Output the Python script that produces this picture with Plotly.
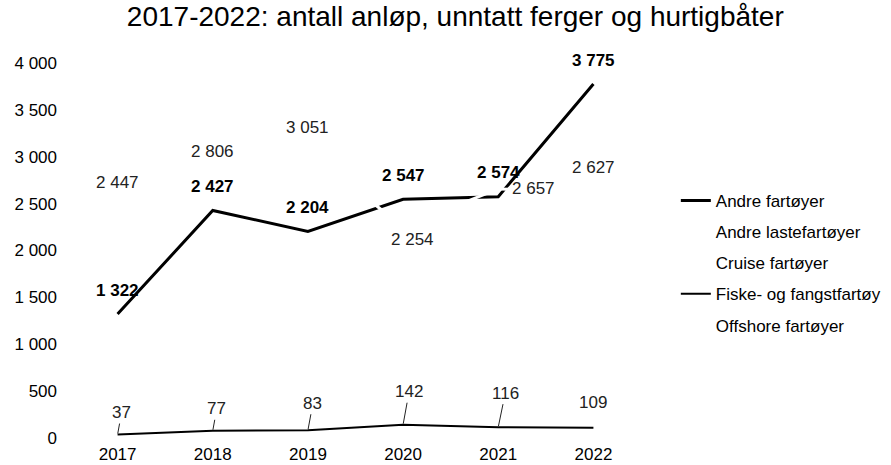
import plotly.graph_objects as go

# data
years = ["2017", "2018", "2019", "2020", "2021", "2022"]
andre_fartoyer = [1322, 2427, 2204, 2547, 2574, 3775]
andre_lastefartoyer = [2447, 2806, 3051, 2254, 2657, 2627]
cruise_fartoyer = [None, None, None, None, None, None]  # not visible in the picture
fiske_fangst = [37, 77, 83, 142, 116, 109]
offshore_fartoyer = [None, None, None, None, None, None]  # not visible in the picture

FONT = "Liberation Sans, Arial, sans-serif"
FS = 17


def fmt(v):
    return f"{v:,}".replace(",", " ")


fig = go.Figure()

series = [
    ("Andre fartøyer", andre_fartoyer, "black", 3),
    ("Andre lastefartøyer", andre_lastefartoyer, "white", 3),
    ("Cruise fartøyer", cruise_fartoyer, "white", 3),
    ("Fiske- og fangstfartøy", fiske_fangst, "black", 2),
    ("Offshore fartøyer", offshore_fartoyer, "white", 3),
]
for name, vals, col, w in series:
    fig.add_trace(go.Scatter(
        x=years, y=vals, name=name, mode="lines",
        line=dict(color=col, width=w), legendgroup=name,
        hoverinfo="skip",
    ))

annotations = []
# Andre fartøyer labels (above points); x as category index
for i, v in enumerate(andre_fartoyer):
    annotations.append(dict(x=i, y=v, text=fmt(v), showarrow=False, yshift=24,
                            font=dict(size=FS, color="black", weight=700)))
# Andre lastefartøyer labels
last_shift = [(0, 26), (0, 23), (0, 24), (9, -13), (35, 0), (0, 24)]
for i, (v, (dx, dy)) in enumerate(zip(andre_lastefartoyer, last_shift)):
    annotations.append(dict(x=i, y=v, text=fmt(v), showarrow=False,
                            xshift=dx, yshift=dy,
                            font=dict(size=FS, color="#222")))
# Fiske labels with leader lines
fiske_off = [(4, -22), (4, -22), (5, -27), (6, -33), (7, -34), (0, -25)]
for i, (v, (dx, dy)) in enumerate(zip(fiske_fangst, fiske_off)):
    if i == len(years) - 1:
        annotations.append(dict(x=i, y=v, text=fmt(v), showarrow=False, yshift=-dy,
                                font=dict(size=FS, color="#222")))
    else:
        annotations.append(dict(x=i, y=v, text=fmt(v), showarrow=True, arrowhead=0,
                                arrowwidth=1, arrowcolor="#222", ax=dx, ay=dy,
                                standoff=1, font=dict(size=FS, color="#222")))

fig.update_layout(
    width=891, height=465,
    paper_bgcolor="white", plot_bgcolor="white",
    font=dict(family=FONT, size=FS, color="black"),
    separators=", ",
    title=dict(text="2017-2022: antall anløp, unntatt ferger og hurtigbåter",
               x=0.511, xanchor="center", y=0.966, yanchor="middle",
               font=dict(size=28, color="black")),
    margin=dict(l=70, r=250, t=63, b=27, autoexpand=False),
    xaxis=dict(type="category", range=[-0.5, 5.5], showgrid=False, showline=False,
               zeroline=False, ticks="", tickfont=dict(size=FS), automargin=False,
               ticklabelstandoff=4),
    yaxis=dict(range=[0, 4000], dtick=500, tickformat=",d", showgrid=False,
               showline=False, zeroline=False, ticks="", ticklabelstandoff=12,
               tickfont=dict(size=FS), automargin=False),
    legend=dict(x=1.061, y=0.68, xanchor="left", yanchor="top",
                font=dict(size=FS), tracegroupgap=6, bgcolor="rgba(0,0,0,0)"),
    annotations=annotations,
    showlegend=True,
)

fig.write_html("out.html", config={"displayModeBar": False},
               post_script="document.body.style.margin='0';")
